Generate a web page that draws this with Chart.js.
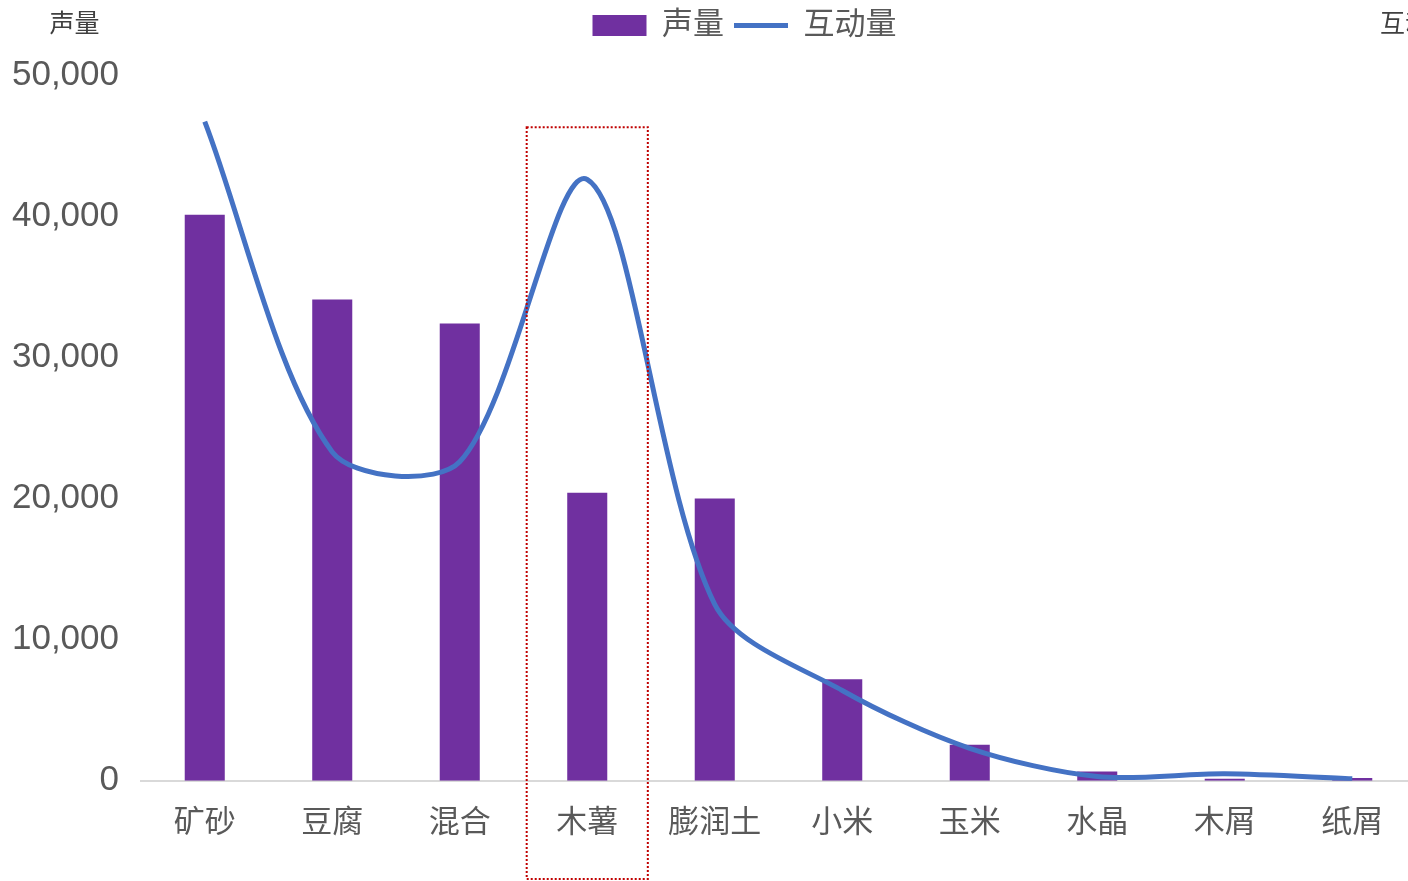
<!DOCTYPE html>
<html>
<head>
<meta charset="utf-8">
<script src="https://cdn.jsdelivr.net/npm/chart.js@4.4.1/dist/chart.umd.min.js"></script>
<style>
  html, body { margin: 0; padding: 0; background: #fff; overflow: hidden; }
  #wrap { width: 1489px; height: 881px; }
</style>
</head>
<body>
<div id="wrap"><canvas id="mycanvas"></canvas></div>
<script>
// categories and values
var categories = ["矿砂", "豆腐", "混合", "木薯", "膨润土", "小米", "玉米", "水晶", "木屑", "纸屑"];
var shengliang = [40100, 34100, 32400, 20400, 20000, 7200, 2550, 650, 150, 200];
var hudongliang = [46700, 23300, 22600, 42600, 12500, 6400, 2300, 300, 500, 150];
var yTicks = [0, 10000, 20000, 30000, 40000, 50000];

// highlighted category (dotted red box)
var highlightIndex = 3;
var highlightTop = 46300;

var fontFamily = '"Liberation Sans", "Noto Sans CJK SC", sans-serif';
var textColor = "#595959";

// push the plot down a little under the legend
var legendGap = {
  id: "legendGap",
  beforeLayout: function(chart) {
    var lg = chart.legend;
    if (lg && !lg._gapSet) {
      var origFit = lg.fit;
      lg.fit = function() {
        origFit.call(this);
        this.height += 24;
      };
      lg._gapSet = true;
    }
  }
};

var axisTitles = {
  id: "axisTitles",
  afterDraw: function(chart) {
    var c = chart.ctx;
    var y = chart.scales.y;
    c.save();
    c.font = "25px " + fontFamily;
    c.fillStyle = "#404040";
    c.textBaseline = "middle";
    c.textAlign = "center";
    c.fillText("声量", (y.left + y.right) / 2 + 4, 25);
    c.textAlign = "left";
    c.fillText("互动量", chart.chartArea.right - 36, 25);
    c.restore();
  }
};

var highlightBox = {
  id: "highlightBox",
  afterDraw: function(chart) {
    var c = chart.ctx;
    var x = chart.scales.x;
    var y = chart.scales.y;
    var band = x.getPixelForValue(1) - x.getPixelForValue(0);
    var cx = x.getPixelForValue(highlightIndex);
    var left = cx - band * 0.475;
    var right = cx + band * 0.475;
    var top = y.getPixelForValue(highlightTop);
    var bottom = chart.height - 2;
    c.save();
    c.strokeStyle = "#C00000";
    c.lineWidth = 2;
    c.setLineDash([2, 2]);
    c.strokeRect(left, top, right - left, bottom - top);
    c.restore();
  }
};

var ctx = document.getElementById("mycanvas");

var chart = new Chart(ctx, {
  type: "bar",
  data: {
    labels: categories,
    datasets: [
      {
        type: "line",
        label: "互动量",
        data: hudongliang,
        yAxisID: "y1",
        borderColor: "#4472C4",
        backgroundColor: "#4472C4",
        borderWidth: 5,
        pointRadius: 0,
        pointStyle: "line",
        tension: 0.3,
        fill: false,
        order: 0
      },
      {
        type: "bar",
        label: "声量",
        data: shengliang,
        yAxisID: "y",
        backgroundColor: "#7030A0",
        pointStyle: "rect",
        categoryPercentage: 1,
        barPercentage: 0.314,
        order: 1
      }
    ]
  },
  options: {
    responsive: true,
    maintainAspectRatio: false,
    animation: false,
    layout: { padding: { top: 0, bottom: 23, left: 0, right: 0 } },
    plugins: {
      legend: {
        position: "top",
        reverse: true,
        labels: {
          usePointStyle: true,
          pointStyleWidth: 54,
          boxHeight: 21,
          padding: 10,
          color: textColor,
          font: { family: fontFamily, size: 31 }
        }
      },
      tooltip: { enabled: false }
    },
    scales: {
      x: {
        grid: { display: false },
        border: { display: true, color: "#d9d9d9", width: 2 },
        ticks: {
          color: textColor,
          padding: 16,
          font: { family: fontFamily, size: 31 }
        }
      },
      y: {
        position: "left",
        min: 0,
        max: 50000,
        afterFit: function(scale) { scale.width = 141; },
        afterBuildTicks: function(scale) {
          scale.ticks = yTicks.map(function(v) { return { value: v }; });
        },
        grid: { display: false, drawTicks: false },
        border: { display: false },
        ticks: {
          color: textColor,
          padding: 22,
          font: { family: fontFamily, size: 35 }
        }
      },
      y1: {
        position: "right",
        min: 0,
        max: 50000,
        afterFit: function(scale) { scale.width = 73; },
        grid: { display: false },
        border: { display: false },
        ticks: { display: false }
      }
    }
  },
  plugins: [legendGap, axisTitles, highlightBox]
});
</script>
</body>
</html>
